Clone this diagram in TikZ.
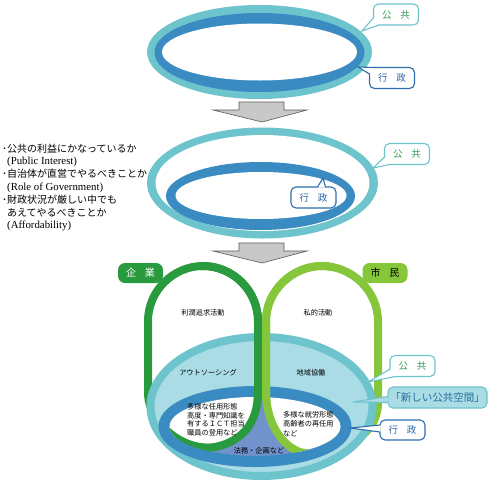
\documentclass[tikz,border=0pt]{standalone}
\usepackage{fontspec}
\newfontfamily\jp{Noto Sans CJK JP}
\newfontfamily\en{Liberation Serif}
\usetikzlibrary{calc}
\definecolor{tealR}{HTML}{6EC4CC}
\definecolor{tealF}{HTML}{A9DCE4}
\definecolor{blueR}{HTML}{3A8BC2}
\definecolor{blueB}{HTML}{2D6DAE}
\definecolor{blueG}{HTML}{7192CB}
\definecolor{gD}{HTML}{2A9A3E}
\definecolor{gL}{HTML}{86C63A}
\definecolor{txG}{HTML}{2F9A55}
\definecolor{txB}{HTML}{2A62A8}
\definecolor{txN}{HTML}{2A6E9E}
\definecolor{arrF}{HTML}{C8C8C8}
\definecolor{arrD}{HTML}{5A5A5A}
\tikzset{
  bub/.style={draw, line width=1.1pt, fill=white, rounded corners=5pt, minimum height=21pt,
              minimum width=45pt, inner sep=0pt, font=\jp\fontsize{9.5}{9.5}\selectfont},
  bubP/.style={bub, draw=tealR, text=txG},
  bubG/.style={bub, draw=blueB, text=txB},
  lab/.style={rounded corners=7pt, minimum width=45pt, minimum height=20pt, inner sep=0pt,
              font=\jp\fontsize{10}{10}\selectfont},
  sm/.style={inner sep=0pt, font=\jp\fontsize{7.2}{8.8}\selectfont},
  blockarrow/.style={fill=arrF, draw=arrD, line width=0.6pt},
  pathD/.style={insert path={(148,321) .. controls (148,291) and (173,266) .. (203,266)
      .. controls (233,266) and (258,291) .. (258,321) -- (258,392)
      .. controls (258,425) and (240,442) .. (215,447)
      .. controls (185,452) and (150,425) .. (148,395) -- cycle}},
  pathL/.style={insert path={(266,321) .. controls (266,291) and (292,266) .. (322,266)
      .. controls (352,266) and (378,291) .. (378,321) -- (378,405)
      .. controls (376,440) and (330,460) .. (300,452)
      .. controls (280,445) and (266,420) .. (266,392) -- cycle}},
}
\begin{document}
\begin{tikzpicture}[x=1pt,y=-1pt]
\useasboundingbox (0,0) rectangle (497,482);
\fill[white] (0,0) rectangle (497,482);

% ---- top ellipse
\fill[tealR] (259.5,52) ellipse [x radius=112.5pt, y radius=47pt];
\fill[blueR] (259.5,52.5) ellipse [x radius=105pt, y radius=39.5pt];
\fill[white] (259.5,52) ellipse [x radius=97.5pt, y radius=28.5pt];

\node[bubP] (p1) at (396,14.5) {公\hspace{0.9em}共};
\coordinate (t1) at (362,31);
\fill[white] ($(p1.south west)+(1.2,-8)$) -- (t1) -- ($(p1.south west)+(6,-1.2)$) -- cycle;
\draw[tealR, line width=1.1pt] ($(p1.south west)+(0.6,-8)$) -- (t1) -- ($(p1.south west)+(6,-0.6)$);

\node[bubG] (g1) at (392,78) {行\hspace{0.9em}政};
\coordinate (t2) at (358,67);
\fill[white] ($(g1.north west)+(1.2,7)$) -- (t2) -- ($(g1.north west)+(7,1.2)$) -- cycle;
\draw[blueB, line width=1.1pt] ($(g1.north west)+(0.6,7)$) -- (t2) -- ($(g1.north west)+(7,0.6)$);

% ---- arrow 1
\draw[blockarrow] (239,102) -- (284,102) -- (284,110) -- (307,110) -- (262,122) -- (213,110) -- (239,110) -- cycle;

% ---- middle ellipse
\fill[tealR] (262.5,183) ellipse [x radius=115.5pt, y radius=55.5pt];
\fill[white] (262.5,183) ellipse [x radius=107pt, y radius=48pt];
\fill[blueR] (260.5,196) ellipse [x radius=94.5pt, y radius=34pt];
\fill[white] (261,195.5) ellipse [x radius=85.5pt, y radius=23.5pt];

\node[bubP] (p2) at (407,154) {公\hspace{0.9em}共};
\coordinate (t3) at (373,168);
\fill[white] ($(p2.south west)+(1.2,-8)$) -- (t3) -- ($(p2.south west)+(6,-1.2)$) -- cycle;
\draw[tealR, line width=1.1pt] ($(p2.south west)+(0.6,-8)$) -- (t3) -- ($(p2.south west)+(6,-0.6)$);

\node[bubG] (g2) at (313.5,197.5) {行\hspace{0.9em}政};
\coordinate (t4) at (323,178);
\fill[white] ($(g2.north)+(4,1.2)$) -- (t4) -- ($(g2.north)+(12,1.2)$) -- cycle;
\draw[blueB, line width=1.1pt] ($(g2.north)+(4,0.6)$) -- (t4) -- ($(g2.north)+(12,0.6)$);

% ---- criteria text
\node[anchor=north west, inner sep=0pt, align=left, font=\jp\fontsize{10}{12.8}\selectfont] (crit) at (2,143.5)
 {･公共の利益にかなっているか\\
  \hspace*{5pt}{\en\fontsize{10.8}{12.8}\selectfont (Public Interest)}\\
  ･自治体が直営でやるべきことか\\
  \hspace*{5pt}{\en\fontsize{10.8}{12.8}\selectfont (Role of Government)}\\
  ･財政状況が厳しい中でも\\
  \hspace*{5pt}あえてやるべきことか\\
  \hspace*{5pt}{\en\fontsize{10.8}{12.8}\selectfont (Affordability)}};

% ---- arrow 2
\draw[blockarrow] (239,243) -- (284,243) -- (284,251) -- (307,251) -- (262,263) -- (213,251) -- (239,251) -- cycle;

% ---- bottom composite
\draw[gD, line width=8pt, pathD];
\draw[gL, line width=8pt, pathL];
\draw[tealR, fill=tealF, line width=8pt] (261.5,406.5) ellipse [x radius=111pt, y radius=69.5pt];
\draw[blueR, fill=blueG, line width=11pt] (255,426.5) ellipse [x radius=91pt, y radius=35pt];
\begin{scope}
  \clip (255,426.5) ellipse [x radius=85.5pt, y radius=29.5pt];
  \fill[white, pathD];
  \fill[white, pathL];
  \draw[gD, line width=8pt, pathD];
  \draw[gL, line width=8pt, pathL];
\end{scope}
\begin{scope}
  \clip (200,0) rectangle (330,400);
  \draw[gD, line width=8pt, pathD];
  \draw[gL, line width=8pt, pathL];
\end{scope}

\node[lab, fill=gD, text=white] (kigyo) at (140.5,273) {企\hspace{0.9em}業};
\node[lab, fill=gL, text=black] (shimin) at (385,273) {市\hspace{0.9em}民};

\node[sm] (rj) at (203,313) {利潤追求活動};
\node[sm] (sk) at (318,313) {私的活動};
\node[sm] (outs) at (208,373) {アウトソーシング};
\node[sm] (chiiki) at (311,373) {地域協働};
\node[sm, anchor=north west, align=left] (ninyo) at (187,403) {多様な任用形態\\高度・専門知識を\\有するＩＣＴ担当\\職員の登用など};
\node[sm, anchor=north west, align=left, font=\jp\fontsize{7.2}{9.5}\selectfont] (shuro) at (283,411) {多様な就労形態\\高齢者の再任用\\など};
\node[sm] (homu) at (259,451) {法務・企画など};

% ---- bottom callouts
\node[bubP] (p3) at (412.5,366) {公\hspace{0.9em}共};
\coordinate (t5) at (368,382);
\fill[white] ($(p3.south west)+(1.2,-8)$) -- (t5) -- ($(p3.south west)+(6,-1.2)$) -- cycle;
\draw[tealR, line width=1.1pt] ($(p3.south west)+(0.6,-8)$) -- (t5) -- ($(p3.south west)+(6,-0.6)$);

\node[bub, draw=tealR, fill=tealF, text=txN, minimum width=99pt, font=\jp\fontsize{10.5}{10.5}\selectfont] (nk) at (437.5,397.5) {「新しい公共空間」};
\coordinate (t6) at (353,402);
\fill[tealF] ($(nk.west)+(1.2,-1)$) -- (t6) -- ($(nk.west)+(1.2,5)$) -- cycle;
\draw[tealR, line width=1.1pt] ($(nk.west)+(0.6,-1)$) -- (t6) -- ($(nk.west)+(0.6,5)$);

\node[bubG, minimum height=20pt] (g3) at (402.5,430) {行\hspace{0.9em}政};
\coordinate (t7) at (350,428);
\fill[white] ($(g3.west)+(1.2,-5)$) -- (t7) -- ($(g3.west)+(1.2,2)$) -- cycle;
\draw[blueB, line width=1.1pt] ($(g3.west)+(0.6,-5)$) -- (t7) -- ($(g3.west)+(0.6,2)$);
\end{tikzpicture}
\end{document}
